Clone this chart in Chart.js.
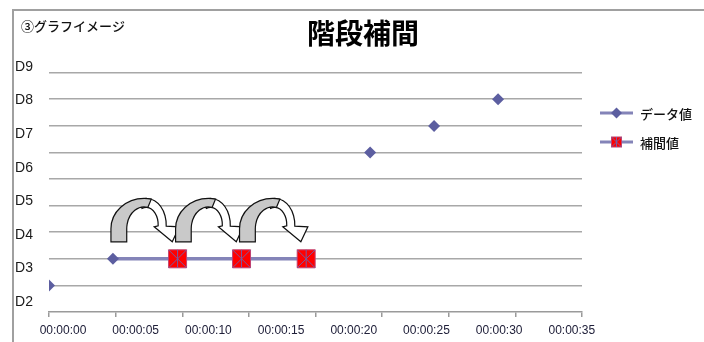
<!DOCTYPE html>
<html><head><meta charset="utf-8">
<script src="https://cdn.jsdelivr.net/npm/chart.js@4/dist/chart.umd.min.js"></script>
<style>html,body{margin:0;padding:0;background:#fff}#wrap{width:704px;height:342px;position:relative}</style>
</head><body><div id="wrap"><canvas id="c" width="704" height="342"></canvas></div>
<script>
// ---- data ----
const chartTitle = '階段補間';
const subTitle = '③グラフイメージ';
const seriesNames = ['データ値', '補間値'];
const dataTimes = [0, 4.8, 24.1, 28.9, 33.7];      // seconds
const dataLevels = [1, 2, 6, 7, 8];
const interpTimes = [4.8, 9.65, 14.45, 19.3];
const interpLevels = [2, 2, 2, 2];
const xTickValues = [0, 5, 10, 15, 20, 25, 30, 35, 40];
const xLabelValues = [0, 5, 10, 15, 20, 25, 30, 35];
const yGridValues = [1, 2, 3, 4, 5, 6, 7, 8, 9];
const yLabelValues = [2, 3, 4, 5, 6, 7, 8, 9];

const fmtTime = v => '00:00:' + String(v).padStart(2, '0');
const toPts = (xs, ys) => xs.map((x, i) => ({x: x, y: ys[i]}));
const interpMarks = toPts(interpTimes.slice(1), interpLevels.slice(1));

const JP = '"Noto Sans CJK JP", sans-serif';
const LINE = '#8484b8', DIAM = '#5c5ea0', GRID = '#a8a8a8';

function drawDiamond(ctx, x, y, r) {
  ctx.beginPath(); ctx.moveTo(x - r, y); ctx.lineTo(x, y - r); ctx.lineTo(x + r, y); ctx.lineTo(x, y + r); ctx.closePath();
  ctx.fillStyle = DIAM; ctx.fill();
}
function drawRedMark(ctx, x, y, h) {
  ctx.fillStyle = '#ff0000'; ctx.fillRect(x - h, y - h, 2 * h, 2 * h);
  ctx.strokeStyle = '#c04070'; ctx.lineWidth = 1; ctx.strokeRect(x - h, y - h, 2 * h, 2 * h);
  ctx.strokeStyle = '#7a5aa0'; ctx.lineWidth = 1;
  ctx.beginPath(); ctx.moveTo(x - h, y - h); ctx.lineTo(x + h, y + h); ctx.moveTo(x + h, y - h); ctx.lineTo(x - h, y + h);
  ctx.moveTo(x, y - h); ctx.lineTo(x, y + h); ctx.stroke();
}

function drawArrow(ctx, x0, x1, yLine) {
  const k = (x1 - x0) / 64.3;
  const yb = yLine - 17;
  // white (front) part
  const cxw = x0 + 33 * k, cyw = yb - 17;
  const rxo = 20 * k, ryo = 26.5, rxi = 12 * k, ryi = 17.5;
  ctx.beginPath();
  ctx.ellipse(cxw, cyw, rxo, ryo, 0, 1.5 * Math.PI - 0.35, 2 * Math.PI + 0.05, false);
  ctx.lineTo(cxw + rxo + 13 * k, cyw + 2);
  ctx.lineTo(cxw + (rxo + rxi) / 2 + 10 * k, yb);
  ctx.lineTo(cxw + rxi - 4 * k, cyw + 2);
  ctx.lineTo(cxw + rxi, cyw + 1);
  ctx.ellipse(cxw, cyw, rxi, ryi, 0, 2 * Math.PI + 0.05, 1.5 * Math.PI - 0.35, true);
  ctx.closePath();
  ctx.fillStyle = '#ffffff'; ctx.fill();
  ctx.strokeStyle = '#111'; ctx.lineWidth = 1.2; ctx.stroke();
  // gray (back) part
  const cx = x0 + 31 * k, cy = yb - 13;
  const Ro = 33 * k, Ho = 30.5, Ri = 17.3 * k, Hi = 22;
  const endA = 1.5 * Math.PI + 0.22;
  ctx.beginPath();
  ctx.moveTo(cx - Ro, yb);
  ctx.lineTo(cx - Ro, cy);
  ctx.ellipse(cx, cy, Ro, Ho, 0, Math.PI, endA, false);
  ctx.lineTo(cx + Ri * Math.cos(endA), cy + Hi * Math.sin(endA));
  ctx.ellipse(cx, cy, Ri, Hi, 0, endA, Math.PI, true);
  ctx.lineTo(cx - Ri, yb);
  ctx.closePath();
  ctx.fillStyle = '#c9c9c9'; ctx.fill();
  ctx.stroke();
}

const decor = {
  id: 'decor',
  beforeDraw(chart) {
    const ctx = chart.ctx;
    ctx.save();
    ctx.fillStyle = '#fff'; ctx.fillRect(0, 0, chart.width, chart.height);
    ctx.strokeStyle = '#a0a0a0'; ctx.lineWidth = 2;
    ctx.beginPath(); ctx.moveTo(13, chart.height); ctx.lineTo(13, 10); ctx.lineTo(chart.width, 10); ctx.stroke();
    ctx.restore();
  },
  afterDatasetsDraw(chart) {
    const ctx = chart.ctx, xs = chart.scales.x, ys = chart.scales.y;
    ctx.save();
    for (let i = 0; i < interpTimes.length - 1; i++) {
      drawArrow(ctx, xs.getPixelForValue(interpTimes[i]), xs.getPixelForValue(interpTimes[i + 1]), ys.getPixelForValue(interpLevels[i]));
    }
    ctx.restore();
  },
  afterDraw(chart) {
    const ctx = chart.ctx;
    ctx.save();
    ctx.fillStyle = '#000';
    ctx.textBaseline = 'middle';
    ctx.textAlign = 'center';
    ctx.font = 'bold 28px ' + JP;
    ctx.fillText(chartTitle, 363, 33);
    ctx.textAlign = 'left';
    ctx.font = '500 13px ' + JP;
    ctx.fillStyle = '#111';
    ctx.fillText(subTitle, 21, 26);
    // legend
    const ly = [113, 142];
    ctx.font = '500 13px ' + JP;
    for (let i = 0; i < 2; i++) {
      ctx.strokeStyle = LINE; ctx.lineWidth = 3;
      ctx.beginPath(); ctx.moveTo(600, ly[i]); ctx.lineTo(633, ly[i]); ctx.stroke();
      if (i === 0) drawDiamond(ctx, 616.5, ly[i], 5.5); else drawRedMark(ctx, 616.5, ly[i], 5);
      ctx.fillStyle = '#111';
      ctx.fillText(seriesNames[i], 640, ly[i] + 1);
    }
    ctx.restore();
  }
};

new Chart(document.getElementById('c'), {
  type: 'scatter',
  data: {
    datasets: [
      { label: seriesNames[0], data: toPts(dataTimes, dataLevels), showLine: false,
        pointStyle: 'rectRot', pointRadius: 6, backgroundColor: DIAM, borderColor: DIAM, borderWidth: 0 },
      { label: 'v', data: interpMarks, showLine: false, pointStyle: 'line', rotation: 90,
        pointRadius: 9, borderColor: '#7a5aa0', borderWidth: 1, backgroundColor: 'transparent' },
      { label: 'x', data: interpMarks, showLine: false, pointStyle: 'crossRot',
        pointRadius: 12.7, borderColor: '#7a5aa0', borderWidth: 1, backgroundColor: 'transparent' },
      { label: seriesNames[1], data: toPts(interpTimes, interpLevels), showLine: true,
        borderColor: LINE, borderWidth: 3.5, pointStyle: 'rect',
        pointRadius: interpTimes.map((t, i) => i === 0 ? 0 : 12.7),
        backgroundColor: '#ff0000', pointBorderColor: '#c04070', pointBorderWidth: 1 }
    ]
  },
  options: {
    responsive: false, animation: false,
    layout: { padding: { left: 13, right: 122, top: 72.7, bottom: 0 } },
    plugins: { legend: { display: false }, tooltip: { enabled: false }, title: { display: false } },
    scales: {
      x: { type: 'linear', position: 'bottom', min: 0, max: 40,
        afterBuildTicks: s => { s.ticks = xTickValues.map(v => ({ value: v })); },
        ticks: { display: false },
        grid: { display: true, drawOnChartArea: false, drawTicks: true, tickLength: 5, color: '#9a9a9a', lineWidth: 1.5 },
        border: { display: true, color: '#9a9a9a', width: 1.5 },
        afterFit: s => { s.height = 5; } },
      x2: { type: 'linear', position: 'bottom', min: -0.963, max: 35.7,
        afterBuildTicks: s => { s.ticks = xLabelValues.map(v => ({ value: v })); },
        ticks: { autoSkip: false, maxRotation: 0, padding: 6, color: '#20203a',
          font: { family: '"Liberation Sans", Arial, sans-serif', size: 12 }, callback: v => fmtTime(v) },
        grid: { display: false, drawTicks: false }, border: { display: false },
        afterFit: s => { s.height = 25; } },
      y: { type: 'linear', position: 'left', min: 0, max: 9,
        afterBuildTicks: s => { s.ticks = yGridValues.map(v => ({ value: v })); },
        ticks: { display: false },
        grid: { color: GRID, lineWidth: 1.6, drawTicks: false },
        border: { display: false },
        afterFit: s => { s.width = 0; } },
      y2: { type: 'linear', position: 'left', min: 1.702, max: 8.83,
        afterBuildTicks: s => { s.ticks = yLabelValues.map(v => ({ value: v })); },
        ticks: { autoSkip: false, padding: 16, color: '#1a1a1a',
          font: { family: '"Liberation Sans", Arial, sans-serif', size: 14 }, callback: v => 'D' + v },
        grid: { display: false, drawTicks: false }, border: { display: false },
        afterFit: s => { s.width = 36; } }
    }
  },
  plugins: [decor]
});
</script>
</body></html>
